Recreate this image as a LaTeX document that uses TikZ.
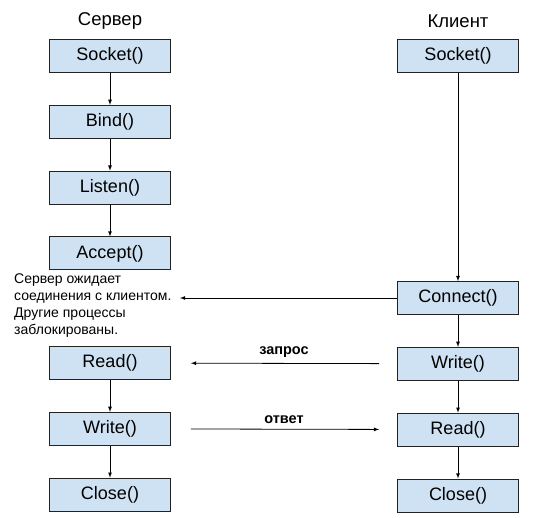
\documentclass[tikz,border=0pt]{standalone}
\usepackage{fontspec}
\setmainfont{Liberation Sans}
\usetikzlibrary{arrows}
\usetikzlibrary{positioning}
\definecolor{boxblue}{HTML}{CFE2F3}
\definecolor{boxline}{HTML}{222222}

\begin{document}
\begin{tikzpicture}[x=1pt, y=1pt, >=latex,
        call/.style={draw=boxline, fill=boxblue, line width=0.8pt, minimum width=121pt,
            minimum height=33pt, inner sep=0pt, font=\fontsize{18}{21}\selectfont},
        side/.style={font=\fontsize{18.5}{21}\selectfont},
        flow/.style={->, line width=0.8pt},
        msg/.style={font=\fontsize{14.5}{16}\selectfont\bfseries}]
        \useasboundingbox (0,0) rectangle (535,-518);

        \node[side] (srv) at (110,-21) {Сервер};
        \node[side] (cli) at (458,-21) {Клиент};

        % server
        \node[call]                    (s1) at (110,-56) {Socket()};
        \node[call, below=32pt of s1]  (s2) {Bind()};
        \node[call, below=32pt of s2]  (s3) {Listen()};
        \node[call, below=32pt of s3]  (s4) {Accept()};
        \node[call]                    (s5) at (110,-363) {Read()};
        \node[call, below=32pt of s5]  (s6) {Write()};
        \node[call, below=32pt of s6]  (s7) {Close()};

        % client
        \node[call]                    (c1) at (458,-56) {Socket()};
        \node[call]                    (c2) at (458,-298) {Connect()};
        \node[call, below=32pt of c2]  (c3) {Write()};
        \node[call, below=32pt of c3]  (c4) {Read()};
        \node[call, below=32pt of c4]  (c5) {Close()};

        \node[anchor=west, align=left, inner sep=0pt,
            font=\fontsize{14}{17}\selectfont] (wait) at (14,-306)
            {Сервер ожидает\\соединения с клиентом.\\Другие процессы\\заблокированы.};
        \coordinate (waitend) at (180,-298);

        \draw[flow]
            (s1) edge (s2)
            (s2) edge (s3)
            (s3) edge (s4)
            (s5) edge (s6)
            (s6) edge (s7)
            (c1) edge (c2)
            (c2) edge (c3)
            (c3) edge (c4)
            (c4) edge (c5)
            (c2) edge (waitend);

        \draw[flow, shorten <=18pt, shorten >=20pt]
            (c3) -- node[msg, above=2pt] {запрос} (s5);
        \draw[flow, shorten <=20pt, shorten >=18pt]
            (s6) -- node[msg, above=2pt] {ответ} (c4);
\end{tikzpicture}
\end{document}
